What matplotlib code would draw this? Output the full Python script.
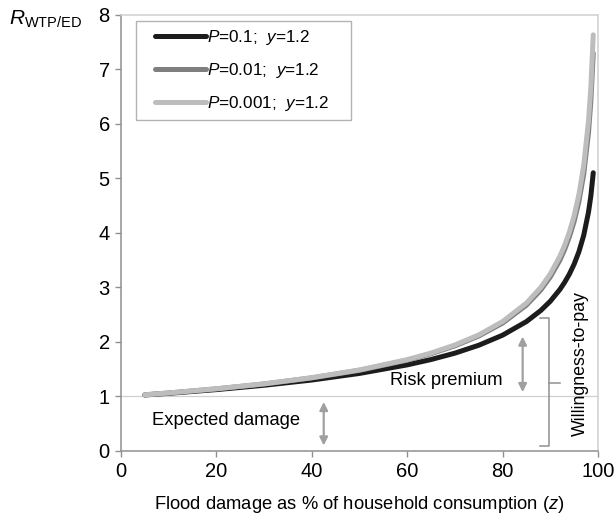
import matplotlib
matplotlib.use("Agg")
import matplotlib.pyplot as plt
from matplotlib.legend_handler import HandlerLine2D
from matplotlib.lines import Line2D

plt.rcParams['font.family'] = ['Liberation Sans', 'DejaVu Sans']
plt.rcParams['mathtext.fontset'] = 'custom'
plt.rcParams['mathtext.rm'] = 'Liberation Sans'
plt.rcParams['mathtext.it'] = 'Liberation Sans:italic'

# Flood damage (% of household consumption)
z = [5, 10, 20, 30, 40, 50, 60, 65, 70, 75, 80, 85, 88, 90, 92, 93, 94, 95, 96, 97, 98, 98.5, 99]
# R_WTP/ED for each probability
r_p01 = [1.028, 1.058, 1.126, 1.206, 1.302, 1.423, 1.580, 1.678, 1.795, 1.940, 2.125,
         2.375, 2.578, 2.748, 2.963, 3.094, 3.246, 3.430, 3.658, 3.956, 4.381, 4.682, 5.105]
r_p001 = [1.031, 1.064, 1.140, 1.229, 1.341, 1.480, 1.666, 1.785, 1.929, 2.110, 2.347,
          2.677, 2.954, 3.194, 3.500, 3.696, 3.930, 4.214, 4.580, 5.080, 5.840, 6.425, 7.300]
r_p0001 = [1.031, 1.065, 1.141, 1.232, 1.345, 1.487, 1.676, 1.797, 1.945, 2.130, 2.375,
           2.714, 3.001, 3.249, 3.572, 3.775, 4.018, 4.319, 4.707, 5.239, 6.055, 6.681, 7.636]
labels = ['$P$=0.1;  $y$=1.2', '$P$=0.01;  $y$=1.2', '$P$=0.001;  $y$=1.2']
colors = ['#1c1c1c', '#7f7f7f', '#bdbdbd']

fig = plt.figure(figsize=(6.15, 5.17), dpi=100)
ax = fig.add_axes([0.1967, 0.1277, 0.7757, 0.8433])

ax.axhline(1, color='#d0d0d0', lw=0.9, zorder=1)
for y, c, lab in zip([r_p01, r_p001, r_p0001], colors, labels):
    ax.plot(z, y, color=c, lw=3.6, label=lab + '    ', solid_capstyle='round', zorder=3)

ax.set_xlim(0, 100)
ax.set_ylim(0, 8)
ax.set_xticks([0, 20, 40, 60, 80, 100])
ax.set_yticks(range(0, 9))
ax.tick_params(axis='both', labelsize=14.5, color='#909090', length=4, width=1, pad=4)
for s in ['left', 'bottom']:
    ax.spines[s].set_color('#909090')
    ax.spines[s].set_linewidth(1.1)
for s in ['top', 'right']:
    ax.spines[s].set_color('#d0d0d0')
    ax.spines[s].set_linewidth(1.1)

ax.set_xlabel('Flood damage as % of household consumption ($z$)', fontsize=13.2, labelpad=9)
fig.text(0.015, 0.962, r'$R_{\mathrm{WTP/ED}}$', fontsize=15, ha='left', va='center')

leg = ax.legend(loc='upper left', bbox_to_anchor=(0.031, 0.986), fontsize=12.3,
                handlelength=3.7, handletextpad=0.05, labelspacing=0.8,
                frameon=True, fancybox=False, borderpad=0.42, borderaxespad=0.0,
                handler_map={Line2D: HandlerLine2D(xpad=0.7)})
leg.get_frame().set_edgecolor('#a0a0a0')
leg.get_frame().set_linewidth(1.0)

acol = '#a0a0a0'
arrowprops = dict(arrowstyle='<|-|>', color=acol, lw=1.6, mutation_scale=12, shrinkA=0, shrinkB=0)
ax.annotate('', xy=(42.5, 0.9), xytext=(42.5, 0.1), arrowprops=arrowprops)
ax.annotate('', xy=(84.2, 2.1), xytext=(84.2, 1.08), arrowprops=arrowprops)
ax.text(22, 0.56, 'Expected damage', fontsize=13.2, ha='center', va='center')
ax.text(68.3, 1.3, 'Risk premium', fontsize=13.2, ha='center', va='center')

bcol = '#909090'
ax.plot([87.8, 89.8, 89.8, 87.8], [2.44, 2.44, 0.09, 0.09], color=bcol, lw=1.1)
ax.plot([89.8, 92.0], [1.24, 1.24], color=bcol, lw=1.1)
ax.text(96.3, 1.6, 'Willingness-to-pay', fontsize=12.8, rotation=90, ha='center', va='center')

fig.savefig('out.png', dpi=100)
